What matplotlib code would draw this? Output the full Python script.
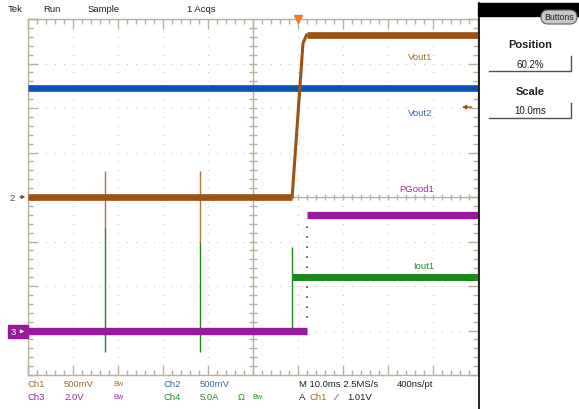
import matplotlib
matplotlib.use("Agg")
import matplotlib.pyplot as plt
from matplotlib.patches import FancyBboxPatch, Rectangle
import numpy as np

# ---------------- data (time in ms, amplitude in divisions) ----------------
ch1_t = [0, 58.7, 61.1, 61.9, 100]          # Vout1 (brown)
ch1_v = [0.0, 0.0, 3.45, 3.64, 3.64]
ch1_spike_t = [17.1, 38.2]
ch1_spike_top = [0.58, 0.58]
ch1_spike_bot = [-0.67, -1.0]

ch2_t = [0, 100]                              # Vout2 (blue)
ch2_v = [2.44, 2.44]

ch3_t = [0, 62.0, 62.0, 100]                  # PGood1 (purple)
ch3_v = [-3.02, -3.02, -0.40, -0.40]

ch4_t = [58.7, 100]                           # Iout1 (green), after step
ch4_v = [-1.80, -1.80]
ch4_spike_t = [17.1, 38.2, 58.7]
ch4_spike_top = [-0.67, -1.0, -1.12]
ch4_spike_bot = [-3.48, -3.48, -3.0]

trace_labels = ["Vout1", "Vout2", "PGood1", "Iout1"]
label_t = [84.4, 84.4, 82.4, 85.6]
label_v = [3.15, 1.91, 0.18, -1.53]

trigger_t = 60.0

C1, C2, C3, C4 = "#9c5212", "#0b52b2", "#9a189c", "#1c8a1c"
T1, T2, T3, T4 = "#a06a32", "#3a6aa6", "#9a2ca0", "#2a8a2a"
FRAME = "#b8b09c"
DOT = "#c2c2c2"

W, H = 579, 410
fig = plt.figure(figsize=(W / 100, H / 100), dpi=100)
fig.patch.set_facecolor("white")

def fx(x):
    return x / W

def fy(y):
    return 1 - y / H

FONT = ["Liberation Sans", "DejaVu Sans"]

# graticule axes
L, R, T, B = 28, 478, 20, 376
ax = fig.add_axes([fx(L), fy(B), (R - L) / W, (B - T) / H])
ax.set_xlim(0, 100)
ax.set_ylim(-4, 4)
ax.set_facecolor("white")
for s in ax.spines.values():
    s.set_color(FRAME)
    s.set_linewidth(1.0)
ax.set_xticks(np.arange(0, 101, 10))
ax.set_xticks(np.arange(0, 101, 2), minor=True)
ax.set_yticks(np.arange(-4, 5, 1))
ax.set_yticks(np.arange(-4, 4.01, 0.2), minor=True)
ax.tick_params(which="both", direction="in", top=True, right=True,
               labelbottom=False, labelleft=False, color=FRAME, width=1.0)
ax.tick_params(which="major", length=7)
ax.tick_params(which="minor", length=3.5)

# grid dots
gx = np.arange(10, 100, 10)
gy = np.arange(-3, 4, 1)
for x in gx:
    ys = np.arange(-4, 4.01, 0.2)
    ax.plot(np.full_like(ys, x), ys, ls="", marker="s", ms=0.7, mew=0, color=DOT, zorder=1)
for y in gy:
    xs = np.arange(0, 100.01, 2)
    ax.plot(xs, np.full_like(xs, y), ls="", marker="s", ms=0.7, mew=0, color=DOT, zorder=1)

# center axes with ticks
ax.axhline(0, color=FRAME, lw=1.0, zorder=1)
ax.axvline(50, color=FRAME, lw=1.0, zorder=1)
tx = np.arange(0, 100.01, 2)
ax.vlines(tx, -0.07, 0.07, color=FRAME, lw=1.0, zorder=1)
ty = np.arange(-4, 4.01, 0.2)
ax.hlines(ty, 49.2, 50.8, color=FRAME, lw=1.0, zorder=1)

# traces
LW = 4.8
# Ch2 blue
ax.plot(ch2_t, ch2_v, color=C2, lw=LW, solid_capstyle="butt", zorder=4)
# Ch4 green spikes + level
for t, a, b in zip(ch4_spike_t, ch4_spike_top, ch4_spike_bot):
    ax.vlines(t, b, a, color=C4, lw=1.0, zorder=3)
ax.plot(ch4_t, ch4_v, color=C4, lw=LW * 1.05, solid_capstyle="butt", zorder=3)
# Ch3 purple
ax.plot(ch3_t[:2], ch3_v[:2], color=C3, lw=LW * 1.1, solid_capstyle="butt", zorder=5)
ax.plot(ch3_t[2:], ch3_v[2:], color=C3, lw=LW * 1.1, solid_capstyle="butt", zorder=5)
ax.plot([ch3_t[1]] * 2, [ch3_v[1] + 0.3, ch3_v[2] - 0.1], color=C3, lw=1.2,
        ls=(0, (1, 5)), zorder=5)
# Ch1 brown
for t, a, b in zip(ch1_spike_t, ch1_spike_top, ch1_spike_bot):
    ax.vlines(t, b, a, color=C1, lw=1.0, alpha=0.8, zorder=6)
ax.plot(ch1_t[:2], ch1_v[:2], color=C1, lw=LW, solid_capstyle="butt", zorder=6)
ax.plot(ch1_t[1:4], ch1_v[1:4], color=C1, lw=2.2, zorder=6)
ax.plot(ch1_t[3:], ch1_v[3:], color=C1, lw=LW, solid_capstyle="butt", zorder=6)

# trace labels
for lab, t, v, c in zip(trace_labels, label_t, label_v, [T1, T2, T3, T4]):
    ax.text(t, v, lab, color=c, fontsize=6.8, va="center", ha="left",
            family=FONT, zorder=7)

# trigger marker
ax.plot([trigger_t], [4.0], marker="v", ms=6, color="#f07a28", clip_on=False, zorder=8)
# right reference arrow (brown)
ax.annotate("", xy=(95.8, 2.02), xytext=(99.2, 2.02),
            arrowprops=dict(arrowstyle="-|>", color=C1, lw=1.0, mutation_scale=6),
            zorder=8)

# ground markers on the left
ax.annotate("", xy=(0, 0), xytext=(-2.4, 0), xycoords="data",
            arrowprops=dict(arrowstyle="-|>", color="#505050", lw=0.8, mutation_scale=5),
            annotation_clip=False)
ax.text(-3.6, 0, "2", color="#404860", fontsize=6.8, ha="center", va="center",
        family=FONT, clip_on=False)
ax.add_patch(Rectangle((-4.45, -3.16), 4.45, 0.29, color=C3, clip_on=False, zorder=9))
ax.text(-3.2, -3.02, "3", color="white", fontsize=6.8, ha="center", va="center",
        family=FONT, clip_on=False, zorder=10)
ax.annotate("", xy=(-0.2, -3.02), xytext=(-2.2, -3.02),
            arrowprops=dict(arrowstyle="-|>", color="white", lw=0.8, mutation_scale=5),
            annotation_clip=False, zorder=10)

# header text
for s, x in [("Tek", 8), ("Run", 43), ("Sample", 88), ("1 Acqs", 187)]:
    fig.text(fx(x), fy(9), s, fontsize=6.8, color="#202020", va="center", ha="left",
             family=FONT)

# bottom status text
row1, row2 = 385, 398
bottom = [
    ("Ch1", 28, row1, T1), ("500mV", 64, row1, T1), ("Bw", 113, row1, T1),
    ("Ch2", 163, row1, T2), ("500mV", 200, row1, T2),
    ("M 10.0ms 2.5MS/s", 299, row1, "#202020"), ("400ns/pt", 397, row1, "#202020"),
    ("Ch3", 28, row2, T3), ("2.0V", 64, row2, T3), ("Bw", 113, row2, T3),
    ("Ch4", 163, row2, T4), ("5.0A", 200, row2, T4), ("Ω", 238, row2, T4),
    ("Bw", 252, row2, T4),
    ("A", 299, row2, "#202020"), ("Ch1", 310, row2, T1), ("⁄", 336, row2, "#202020"),
    ("1.01V", 347, row2, "#202020"),
]
for s, x, y, c in bottom:
    fs = 5.2 if s == "Bw" else 6.8
    fig.text(fx(x), fy(y), s, fontsize=fs, color=c, va="center", ha="left", family=FONT)

# right panel
pax = fig.add_axes([0, 0, 1, 1], zorder=19)
pax.set_xlim(0, W)
pax.set_ylim(H, 0)
pax.axis("off")
pax.patch.set_alpha(0)
pax.add_patch(Rectangle((478, 4), W - 478, 13, color="black"))
pax.plot([478.5, 478.5], [4, H], color="black", lw=1.2)
pax.add_patch(FancyBboxPatch((541, 11), 36, 14, boxstyle="round,pad=0,rounding_size=7",
                             facecolor="#c8c8c8", edgecolor="#606060", lw=0.8))
pax.text(559, 18, "Buttons", fontsize=6.3, ha="center", va="center", color="#202020",
         family=FONT)
pax.text(530, 45, "Position", fontsize=8, fontweight="bold", ha="center", va="center",
         color="#202020", family=FONT)
pax.text(530, 65, "60.2%", fontsize=7, ha="center", va="center", color="#202020",
         family=FONT)
pax.plot([489, 571, 571], [72, 72, 57], color="#505050", lw=1.0)
pax.text(530, 92, "Scale", fontsize=8, fontweight="bold", ha="center", va="center",
         color="#202020", family=FONT)
pax.text(530, 111, "10.0ms", fontsize=7, ha="center", va="center", color="#202020",
         family=FONT)
pax.plot([489, 571, 571], [119, 119, 104], color="#505050", lw=1.0)

fig.savefig("out.png", dpi=100, facecolor="white")
